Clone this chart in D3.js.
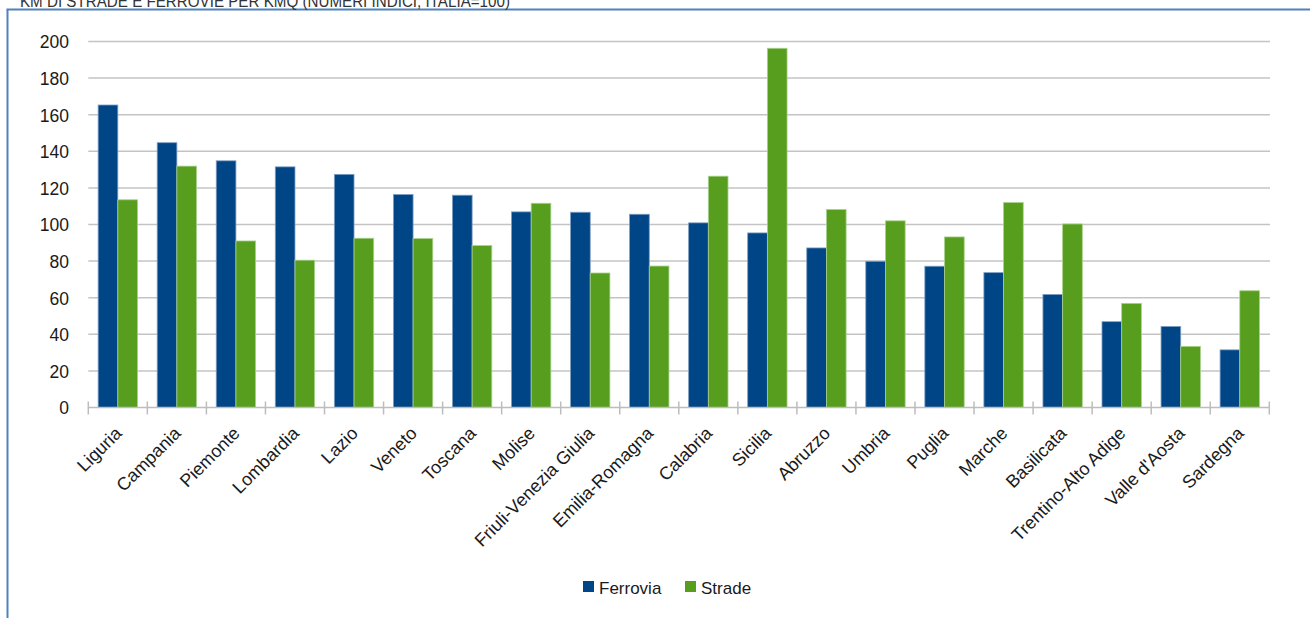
<!DOCTYPE html>
<html>
<head>
<meta charset="utf-8">
<script src="https://cdn.jsdelivr.net/npm/d3@7/dist/d3.min.js"></script>
<style>
  html, body { margin: 0; padding: 0; background: #fff; }
  svg { display: block; }
  text { font-family: "Liberation Sans", Arial, sans-serif; fill: #1a1a1a; }
</style>
</head>
<body>
<svg id="chart" width="1310" height="618"></svg>
<script>
// Regions ordered by railway density index
const regions = ["Liguria", "Campania", "Piemonte", "Lombardia", "Lazio", "Veneto", "Toscana",
  "Molise", "Friuli-Venezia Giulia", "Emilia-Romagna", "Calabria", "Sicilia", "Abruzzo",
  "Umbria", "Puglia", "Marche", "Basilicata", "Trentino-Alto Adige", "Valle d'Aosta", "Sardegna"];

// Km of railway per km² (index, Italy = 100)
const ferrovia = [165.3, 144.7, 134.8, 131.5, 127.4, 116.4, 116.0, 106.9, 106.7, 105.6,
  100.9, 95.4, 87.2, 79.9, 77.2, 73.7, 61.8, 46.9, 44.3, 31.5];

// Km of roads per km² (index, Italy = 100)
const strade = [113.5, 131.9, 91.0, 80.5, 92.5, 92.3, 88.5, 111.6, 73.5, 77.3,
  126.4, 196.3, 108.2, 102.0, 93.2, 112.0, 100.3, 56.9, 33.4, 63.8];

const seriesNames = ["Ferrovia", "Strade"];
const seriesColors = ["#004687", "#589e1e"];
const yTicks = [0, 20, 40, 60, 80, 100, 120, 140, 160, 180, 200];
const title = "KM DI STRADE E FERROVIE PER KMQ (NUMERI INDICI; ITALIA=100)";

const svg = d3.select("#chart");

// Outer frame (left and top edges)
svg.append("line").attr("x1", 7.5).attr("x2", 7.5).attr("y1", 9.5).attr("y2", 618)
  .attr("stroke", "#4f81bd").attr("stroke-width", 2);
svg.append("line").attr("x1", 6.5).attr("x2", 1310).attr("y1", 9.5).attr("y2", 9.5)
  .attr("stroke", "#4f81bd").attr("stroke-width", 2);

// Title, sitting above the frame
svg.append("text").attr("x", 20).attr("y", 6.5)
  .attr("font-size", 16)
  .attr("textLength", 490).attr("lengthAdjust", "spacingAndGlyphs")
  .style("fill", "#333")
  .text(title);

const x = d3.scaleBand().domain(regions).range([88.3, 1269.3]).padding(0);
const x1 = d3.scaleBand().domain(seriesNames).range([0, x.bandwidth()])
  .paddingInner(0).paddingOuter(0.5);
const y = d3.scaleLinear().domain([0, 200]).range([407.5, 41.5]);

// Horizontal gridlines
svg.append("g").selectAll("line").data(yTicks.filter(d => d > 0)).join("line")
  .attr("x1", 88.3).attr("x2", 1270)
  .attr("y1", d => y(d)).attr("y2", d => y(d))
  .attr("stroke", "#c4c4c4").attr("stroke-width", 1.5);

// Y axis labels
const yAxis = d3.axisLeft(y).tickValues(yTicks).tickSize(0).tickPadding(0);
const gy = svg.append("g").attr("transform", "translate(69,0)").call(yAxis);
gy.select(".domain").remove();
gy.selectAll("text").attr("font-size", 17.5).attr("dy", "0.36em")
  .style("font-family", "'Liberation Sans', Arial, sans-serif").style("fill", "#1a1a1a");

// Bars
const rows = regions.map((r, i) => ({ region: r, values: [ferrovia[i], strade[i]] }));
const groups = svg.append("g").selectAll("g").data(rows).join("g")
  .attr("transform", d => `translate(${x(d.region)},0)`);
groups.selectAll("rect").data(d => d.values.map((v, k) => ({ v, k }))).join("rect")
  .attr("x", d => x1(seriesNames[d.k]))
  .attr("width", x1.bandwidth())
  .attr("y", d => y(d.v))
  .attr("height", d => y(0) - y(d.v))
  .attr("fill", d => seriesColors[d.k])
  .attr("stroke", d => d.k === 0 ? "#7f9fc4" : "#a9d18e")
  .attr("stroke-width", 0.8);

// X axis baseline with crossing tick marks
const gx = svg.append("g");
gx.append("line").attr("x1", 88.3).attr("x2", 1270).attr("y1", y(0)).attr("y2", y(0))
  .attr("stroke", "#bdbdbd").attr("stroke-width", 1.5);
const boundaries = regions.map(r => x(r)).concat([x(regions[regions.length - 1]) + x.bandwidth()]);
gx.selectAll("line.tick").data(boundaries).join("line").attr("class", "tick")
  .attr("x1", d => d).attr("x2", d => d)
  .attr("y1", y(0) - 6).attr("y2", y(0) + 7)
  .attr("stroke", "#bdbdbd").attr("stroke-width", 1.5);

// Rotated category labels
svg.append("g").selectAll("text").data(regions).join("text")
  .attr("transform", d => `translate(${x(d) + x.bandwidth() / 2 + 5},${y(0) + 27}) rotate(-45)`)
  .attr("text-anchor", "end")
  .attr("font-size", 18)
  .text(d => d);

// Legend
const legend = svg.append("g");
const legendItems = [{ name: "Ferrovia", x: 583 }, { name: "Strade", x: 685 }];
legendItems.forEach((it, k) => {
  legend.append("rect").attr("x", it.x).attr("y", 581).attr("width", 11).attr("height", 11)
    .attr("fill", seriesColors[k]);
  legend.append("text").attr("x", it.x + 16).attr("y", 593.5)
    .attr("font-size", 17).text(it.name);
});
</script>
</body>
</html>
